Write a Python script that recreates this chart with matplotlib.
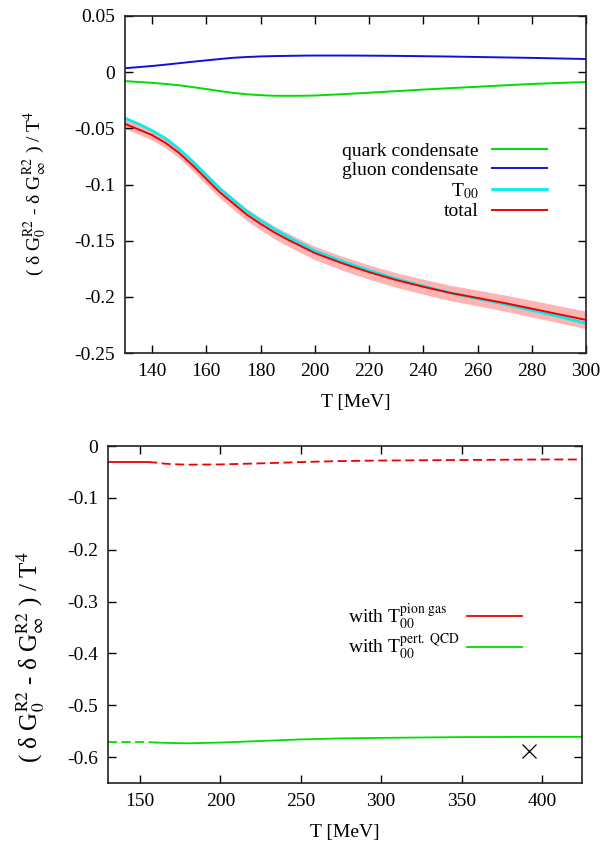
import matplotlib
matplotlib.use('Agg')
import matplotlib.pyplot as plt
from matplotlib.ticker import FuncFormatter

plt.rcParams['font.family'] = ['Liberation Serif', 'DejaVu Serif']
plt.rcParams['mathtext.fontset'] = 'stix'
plt.rcParams['axes.unicode_minus'] = False

# top panel: contributions vs T
T_top = [130, 135, 140, 145, 150, 155, 160, 165, 170, 175, 180, 185, 190, 195, 200,
         210, 220, 230, 240, 250, 260, 270, 280, 290, 300]
quark = [-0.0080, -0.0087, -0.0095, -0.0105, -0.0117, -0.0133, -0.0150, -0.0168, -0.0185, -0.0197,
         -0.0205, -0.0210, -0.0211, -0.0210, -0.0208, -0.0196, -0.0183, -0.0169, -0.0155, -0.0142,
         -0.0130, -0.0117, -0.0105, -0.0096, -0.0088]
gluon = [0.0035, 0.0045, 0.0055, 0.0067, 0.0080, 0.0093, 0.0105, 0.0117, 0.0128, 0.0135,
         0.0140, 0.0143, 0.0145, 0.0147, 0.0148, 0.0148, 0.0147, 0.0145, 0.0142, 0.0139,
         0.0135, 0.0131, 0.0127, 0.0122, 0.0117]
t00 = [-0.041, -0.046, -0.052, -0.059, -0.0685, -0.0795, -0.0915, -0.1035, -0.114, -0.124,
       -0.132, -0.1395, -0.1465, -0.1527, -0.159, -0.1683, -0.1765, -0.184, -0.1905, -0.1965,
       -0.2015, -0.2065, -0.212, -0.2175, -0.2235]
total = [-0.046, -0.051, -0.056, -0.063, -0.072, -0.083, -0.095, -0.107, -0.117, -0.127,
         -0.135, -0.1425, -0.149, -0.155, -0.161, -0.170, -0.178, -0.185, -0.191, -0.1965,
         -0.201, -0.2055, -0.2105, -0.2155, -0.2205]
total_err = [0.0042, 0.0043, 0.0044, 0.0045, 0.0046, 0.0048, 0.0050, 0.0051, 0.0053, 0.0054,
             0.0055, 0.0056, 0.0058, 0.0059, 0.0060, 0.0062, 0.0064, 0.0065, 0.0067, 0.0068,
             0.0070, 0.0072, 0.0074, 0.0076, 0.0078]

# bottom panel: total with two T00 models
T_bot = [130, 150, 155, 160, 165, 170, 180, 200, 225, 250, 275, 300, 350, 400, 425]
pion = [-0.031, -0.031, -0.031, -0.032, -0.034, -0.035, -0.036, -0.0355, -0.0335, -0.031,
        -0.029, -0.028, -0.027, -0.026, -0.026]
pert = [-0.571, -0.571, -0.5712, -0.572, -0.5725, -0.573, -0.5735, -0.572, -0.569, -0.566,
        -0.564, -0.563, -0.5615, -0.561, -0.561]
T_cross = [392]
v_cross = [-0.589]
pion_split = 155   # red solid below, dashed above
pert_split = 160   # green dashed below, solid above

ylab = r'( δ G$_0^{\rm R2}$ - δ G$_\infty^{\rm R2}$ ) / T$^4$'
fmt = FuncFormatter(lambda v, p: '%g' % round(v, 4))

fig = plt.figure(figsize=(6.12, 8.46), dpi=100)
ax1 = fig.add_axes([0.2042, 0.5827, 0.7533, 0.3984])
ax2 = fig.add_axes([0.1765, 0.0745, 0.7745, 0.3983])

green = '#00dd00'
blue = '#1010dd'
cyan = '#00eeee'
red = '#ee0000'

# top
lo = [t - e for t, e in zip(total, total_err)]
hi = [t + e for t, e in zip(total, total_err)]
ax1.fill_between(T_top, lo, hi, color='#ffb4b4', lw=0)
ax1.plot(T_top, quark, color=green, lw=1.4, label='quark condensate')
ax1.plot(T_top, gluon, color=blue, lw=1.4, label='gluon condensate')
ax1.plot(T_top, t00, color=cyan, lw=2.0, label=r'T$_{00}$')
ax1.plot(T_top, total, color=red, lw=1.4, label='total')
ax1.set_xlim(130, 300)
ax1.set_ylim(-0.25, 0.05)
ax1.set_xticks(range(140, 301, 20))
ax1.set_yticks([0.05, 0, -0.05, -0.1, -0.15, -0.2, -0.25])
ax1.yaxis.set_major_formatter(fmt)
ax1.set_xlabel('T [MeV]', fontsize=14, labelpad=10)
ax1.set_ylabel(ylab, fontsize=14)
ax1.yaxis.set_label_coords(-0.165, 0.475)
ax1.legend(loc='center right', bbox_to_anchor=(0.915, 0.51), frameon=False, markerfirst=False,
           fontsize=14, handlelength=2.8, handletextpad=0.7, labelspacing=0.1, borderpad=0,
           borderaxespad=0)

# bottom
Tp_a = [t for t in T_bot if t <= pion_split]
Tp_b = [t for t in T_bot if t >= pion_split]
ax2.plot(Tp_a, pion[:len(Tp_a)], color=red, lw=1.3, label=r'with T$_{00}^{\rm pion\ gas}$')
ax2.plot(Tp_b, pion[len(T_bot) - len(Tp_b):], color=red, lw=1.3, dashes=(5, 2.5))
Tq_a = [t for t in T_bot if t <= pert_split]
Tq_b = [t for t in T_bot if t >= pert_split]
ax2.plot(Tq_a, pert[:len(Tq_a)], color=green, lw=1.3, dashes=(5, 2.5))
ax2.plot(Tq_b, pert[len(T_bot) - len(Tq_b):], color=green, lw=1.3, label=r'with T$_{00}^{\rm pert.\ QCD}$')
ax2.plot(T_cross, v_cross, 'x', color='black', ms=10, mew=0.9)
ax2.set_xlim(130, 425)
ax2.set_ylim(-0.65, 0)
ax2.set_xticks(range(150, 401, 50))
ax2.set_yticks([0, -0.1, -0.2, -0.3, -0.4, -0.5, -0.6])
ax2.yaxis.set_major_formatter(fmt)
ax2.set_xlabel('T [MeV]', fontsize=14, labelpad=10)
ax2.set_ylabel(ylab, fontsize=18)
ax2.yaxis.set_label_coords(-0.13, 0.374)
leg2 = ax2.legend(loc='center right', bbox_to_anchor=(0.873, 0.448), frameon=False, markerfirst=False,
                  fontsize=14, handlelength=2.8, handletextpad=0.4, labelspacing=0.05, borderpad=0,
                  borderaxespad=0)

for ax in (ax1, ax2):
    ax.tick_params(direction='in', length=6, width=1, top=True, right=True, labelsize=14, pad=7)
    for s in ax.spines.values():
        s.set_linewidth(1.2)
        s.set_color('#222222')

# left-align the bottom legend texts while keeping handles in one column
fig.canvas.draw()
rend = fig.canvas.get_renderer()
texts = leg2.get_texts()
widths = [t.get_window_extent(rend).width for t in texts]
for t, w in zip(texts, widths):
    t.set_position((w - max(widths), 0))

fig.savefig('out.png', dpi=100)
